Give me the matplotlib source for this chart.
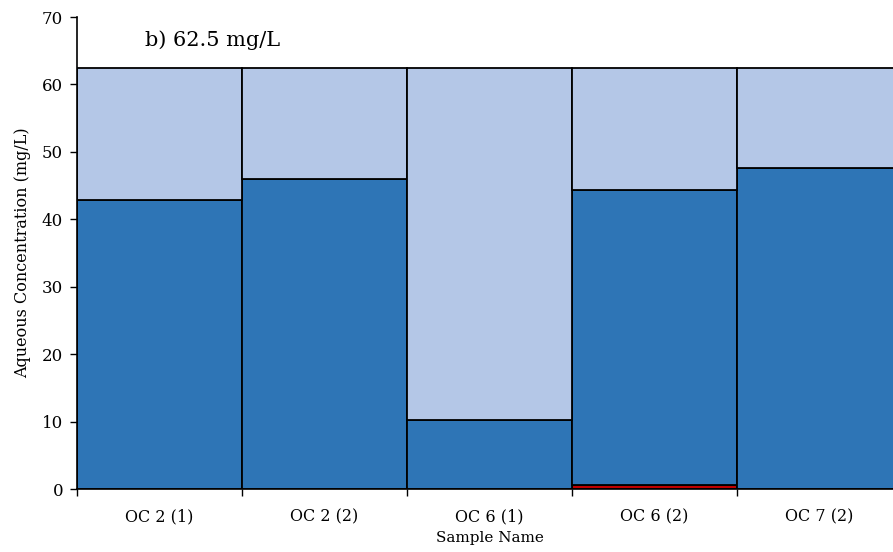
import matplotlib
matplotlib.use("Agg")
import matplotlib.pyplot as plt
import numpy as np

samples = ["OC 2 (1)", "OC 2 (2)", "OC 6 (1)", "OC 6 (2)", "OC 7 (2)"]
initial_conc = 62.5
red_part = [0.0, 0.0, 0.0, 0.6, 0.0]
aqueous = [42.9, 46.0, 10.2, 43.7, 47.6]
y_ticks = [0, 10, 20, 30, 40, 50, 60, 70]

plt.rcParams["font.family"] = ["DejaVu Serif"]

fig = plt.figure(figsize=(8.93, 5.52), dpi=100)
ax = fig.add_axes([0.0862, 0.1141, 0.924, 0.8551])

x = np.arange(len(samples))
red = np.array(red_part)
aq = np.array(aqueous)
rest = initial_conc - red - aq

ec = "black"
lw = 1.3
ax.bar(x, red, width=1.0, color="#C00000", edgecolor=ec, linewidth=lw)
ax.bar(x, aq, width=1.0, bottom=red, color="#2E75B6", edgecolor=ec, linewidth=lw)
ax.bar(x, rest, width=1.0, bottom=red + aq, color="#B4C7E7", edgecolor=ec, linewidth=lw)

ax.set_xlim(-0.5, len(samples) - 0.5)
ax.set_ylim(0, 70)
ax.set_yticks(y_ticks)
ax.tick_params(axis="y", labelsize=12, length=5, width=1, direction="out", pad=5)
ax.set_xticks(x)
ax.set_xticklabels(samples, fontsize=11.5)
ax.tick_params(axis="x", length=0, pad=14)
ax.set_xticks(np.arange(len(samples) + 1) - 0.5, minor=True)
ax.tick_params(axis="x", which="minor", length=5, width=1, direction="out")

for s in ["top", "right"]:
    ax.spines[s].set_visible(False)
for s in ["left", "bottom"]:
    ax.spines[s].set_linewidth(1.2)

ax.set_ylabel("Aqueous Concentration (mg/L)", fontsize=11.5, labelpad=8)
ax.set_xlabel("Sample Name", fontsize=11, labelpad=4)
ax.text(0.083, 0.95, "b) 62.5 mg/L", transform=ax.transAxes, fontsize=15,
        ha="left", va="center")

fig.savefig("out.png", dpi=100)
